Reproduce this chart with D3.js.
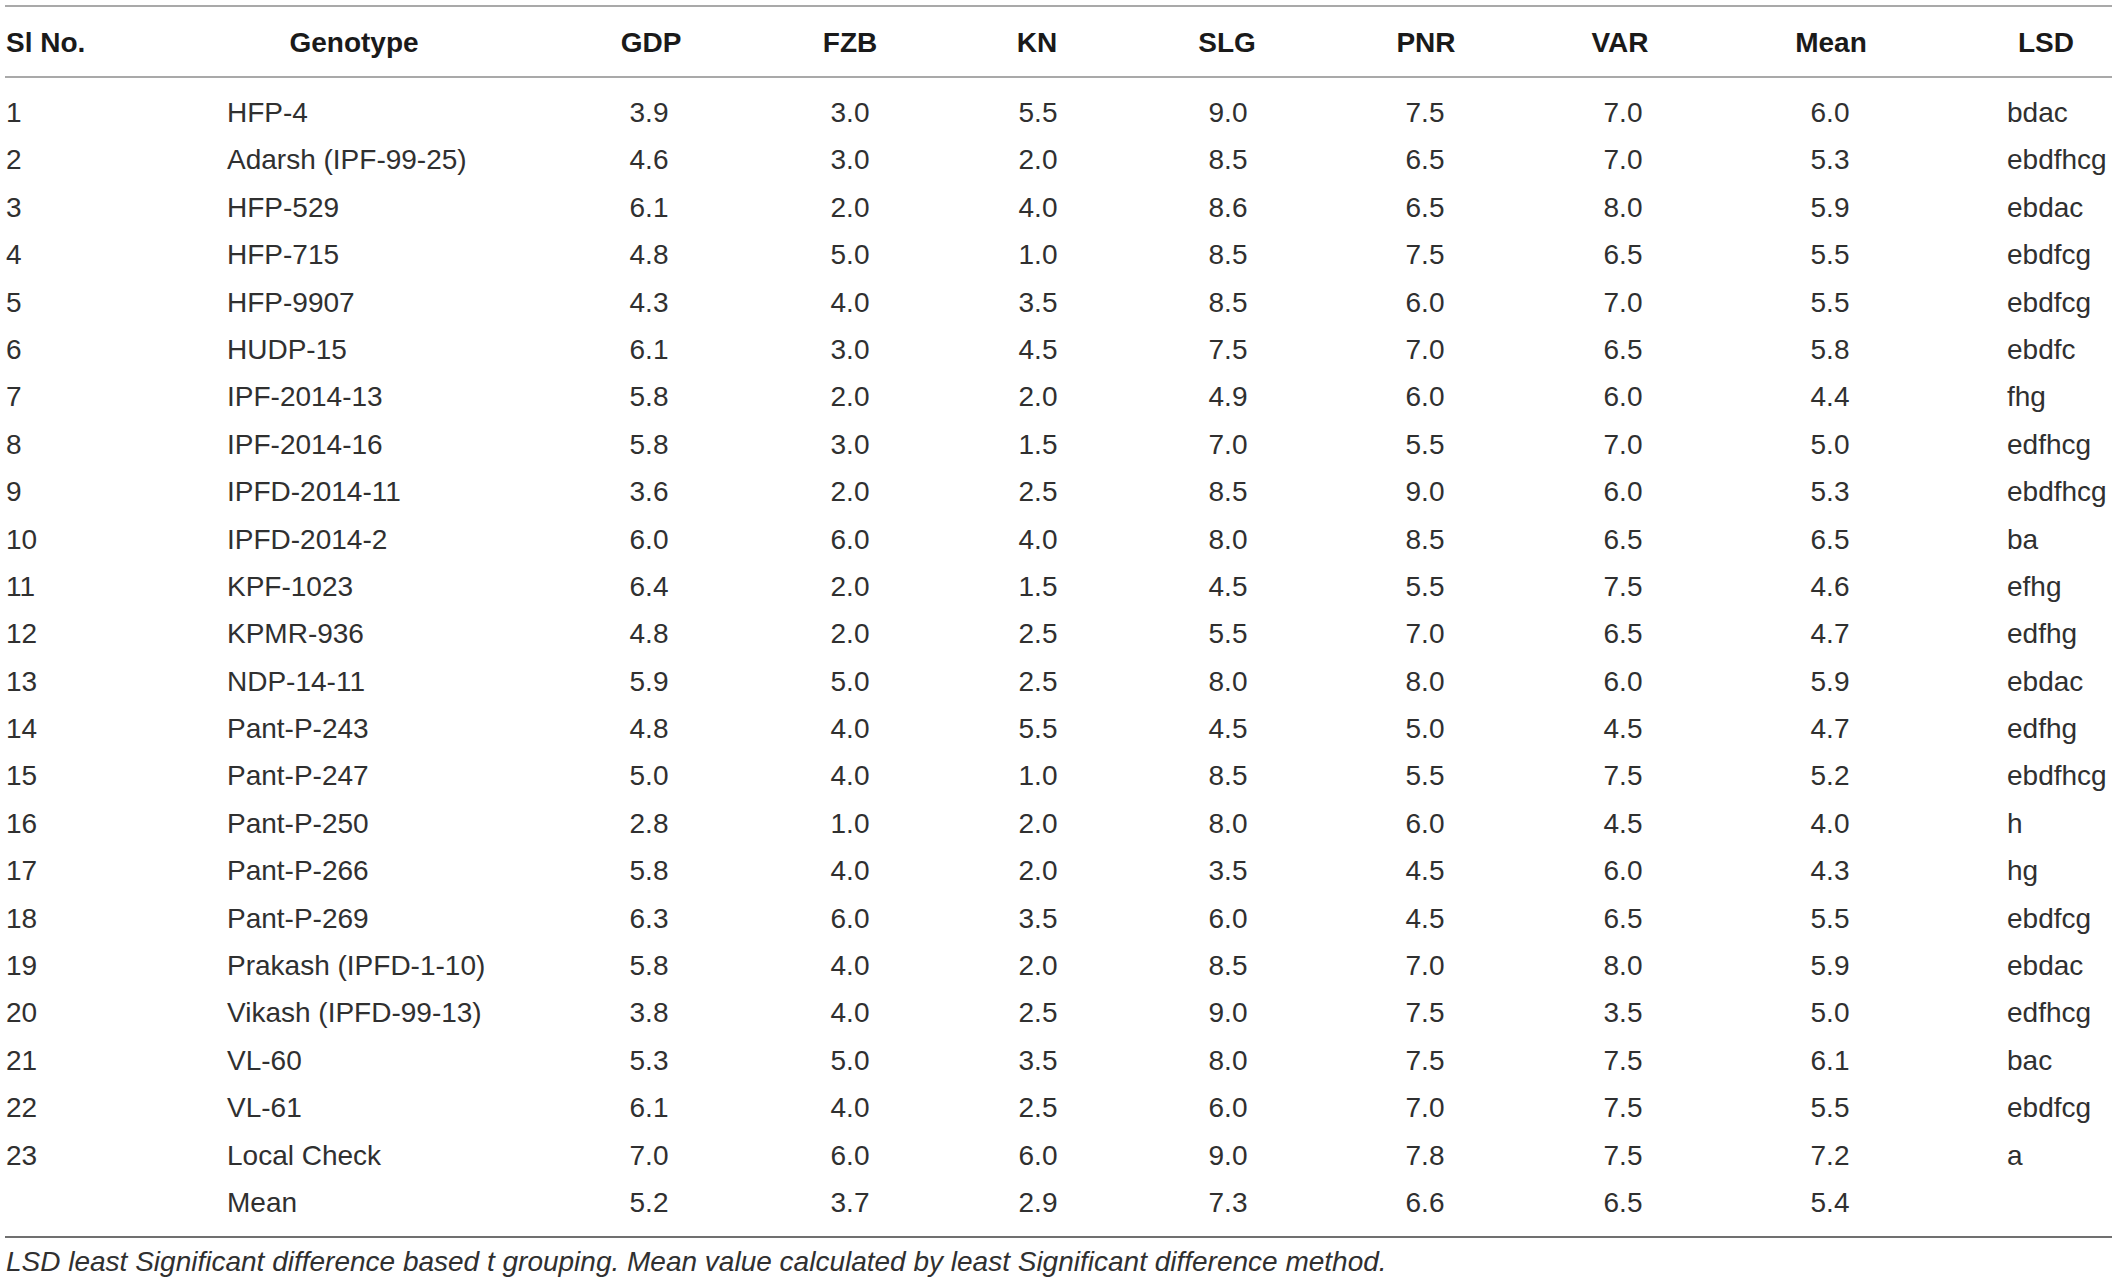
<!DOCTYPE html>
<html>
<head>
<meta charset="utf-8">
<script src="https://cdn.jsdelivr.net/npm/d3@7"></script>
<style>
  body { margin: 0; background: #fff; }
  svg { display: block; font-family: "Liberation Sans", Arial, sans-serif; }
  .head { font-weight: 700; font-size: 28px; fill: #1a1a1a; }
  .cell { font-size: 28px; fill: #303030; }
  .note { font-size: 28px; font-style: italic; fill: #303030; }
</style>
</head>
<body>
<svg id="table"></svg>
<script>
const headers = ['Sl No.', 'Genotype', 'GDP', 'FZB', 'KN', 'SLG', 'PNR', 'VAR', 'Mean', 'LSD'];

const slNo = d3.range(1, 24).map(String).concat(['']);

const genotypes = [
  'HFP-4', 'Adarsh (IPF-99-25)', 'HFP-529', 'HFP-715', 'HFP-9907', 'HUDP-15',
  'IPF-2014-13', 'IPF-2014-16', 'IPFD-2014-11', 'IPFD-2014-2', 'KPF-1023', 'KPMR-936',
  'NDP-14-11', 'Pant-P-243', 'Pant-P-247', 'Pant-P-250', 'Pant-P-266', 'Pant-P-269',
  'Prakash (IPFD-1-10)', 'Vikash (IPFD-99-13)', 'VL-60', 'VL-61', 'Local Check', 'Mean',
];

// last value of each series is the column mean
const gdp = [3.9, 4.6, 6.1, 4.8, 4.3, 6.1, 5.8, 5.8, 3.6, 6.0, 6.4, 4.8, 5.9, 4.8, 5.0, 2.8, 5.8, 6.3, 5.8, 3.8, 5.3, 6.1, 7.0, 5.2];
const fzb = [3.0, 3.0, 2.0, 5.0, 4.0, 3.0, 2.0, 3.0, 2.0, 6.0, 2.0, 2.0, 5.0, 4.0, 4.0, 1.0, 4.0, 6.0, 4.0, 4.0, 5.0, 4.0, 6.0, 3.7];
const kn = [5.5, 2.0, 4.0, 1.0, 3.5, 4.5, 2.0, 1.5, 2.5, 4.0, 1.5, 2.5, 2.5, 5.5, 1.0, 2.0, 2.0, 3.5, 2.0, 2.5, 3.5, 2.5, 6.0, 2.9];
const slg = [9.0, 8.5, 8.6, 8.5, 8.5, 7.5, 4.9, 7.0, 8.5, 8.0, 4.5, 5.5, 8.0, 4.5, 8.5, 8.0, 3.5, 6.0, 8.5, 9.0, 8.0, 6.0, 9.0, 7.3];
const pnr = [7.5, 6.5, 6.5, 7.5, 6.0, 7.0, 6.0, 5.5, 9.0, 8.5, 5.5, 7.0, 8.0, 5.0, 5.5, 6.0, 4.5, 4.5, 7.0, 7.5, 7.5, 7.0, 7.8, 6.6];
const varScore = [7.0, 7.0, 8.0, 6.5, 7.0, 6.5, 6.0, 7.0, 6.0, 6.5, 7.5, 6.5, 6.0, 4.5, 7.5, 4.5, 6.0, 6.5, 8.0, 3.5, 7.5, 7.5, 7.5, 6.5];
const meanScore = [6.0, 5.3, 5.9, 5.5, 5.5, 5.8, 4.4, 5.0, 5.3, 6.5, 4.6, 4.7, 5.9, 4.7, 5.2, 4.0, 4.3, 5.5, 5.9, 5.0, 6.1, 5.5, 7.2, 5.4];

const lsd = [
  'bdac', 'ebdfhcg', 'ebdac', 'ebdfcg', 'ebdfcg', 'ebdfc', 'fhg', 'edfhcg', 'ebdfhcg', 'ba',
  'efhg', 'edfhg', 'ebdac', 'edfhg', 'ebdfhcg', 'h', 'hg', 'ebdfcg', 'ebdac', 'edfhcg',
  'bac', 'ebdfcg', 'a', '',
];

const footnote = 'LSD least Significant difference based t grouping. Mean value calculated by least Significant difference method.';

const width = 2117;
const height = 1285;
const fmt = d3.format('.1f');

const svg = d3.select('#table').attr('width', width).attr('height', height);

// row baselines
const y = d3.scaleLinear().domain([0, genotypes.length - 1]).range([122, 1212]);

// column layout: header x, cell x, anchors
const columns = [
  { key: 'sl', hx: 6, cx: 6, hAnchor: 'start', cAnchor: 'start', values: slNo },
  { key: 'geno', hx: 354, cx: 227, hAnchor: 'middle', cAnchor: 'start', values: genotypes },
  { key: 'gdp', hx: 651, cx: 649, values: gdp.map(fmt) },
  { key: 'fzb', hx: 850, cx: 850, values: fzb.map(fmt) },
  { key: 'kn', hx: 1037, cx: 1038, values: kn.map(fmt) },
  { key: 'slg', hx: 1227, cx: 1228, values: slg.map(fmt) },
  { key: 'pnr', hx: 1426, cx: 1425, values: pnr.map(fmt) },
  { key: 'var', hx: 1620, cx: 1623, values: varScore.map(fmt) },
  { key: 'mean', hx: 1831, cx: 1830, values: meanScore.map(fmt) },
  { key: 'lsd', hx: 2046, cx: 2007, hAnchor: 'middle', cAnchor: 'start', values: lsd },
];

const rule = (yPos, color) => svg.append('line')
  .attr('x1', 5)
  .attr('x2', 2112)
  .attr('y1', yPos)
  .attr('y2', yPos)
  .style('stroke', color)
  .style('stroke-width', 2);

rule(6, '#a9a9a9');
rule(77, '#a9a9a9');
rule(1237, '#707070');

svg.append('g')
  .selectAll('text')
  .data(columns)
  .enter()
  .append('text')
  .attr('class', 'head')
  .attr('x', (c) => c.hx)
  .attr('y', 52)
  .attr('text-anchor', (c) => c.hAnchor || 'middle')
  .text((c, i) => headers[i]);

const cols = svg.append('g')
  .selectAll('g')
  .data(columns)
  .enter()
  .append('g')
  .attr('class', (c) => `col-${c.key}`);

cols.selectAll('text')
  .data((c) => c.values.map((v) => ({ v, c })))
  .enter()
  .append('text')
  .attr('class', 'cell')
  .attr('x', (d) => d.c.cx)
  .attr('y', (d, i) => y(i))
  .attr('text-anchor', (d) => d.c.cAnchor || 'middle')
  .text((d) => d.v);

svg.append('text')
  .attr('class', 'note')
  .attr('x', 6)
  .attr('y', 1271)
  .text(footnote);
</script>
</body>
</html>
